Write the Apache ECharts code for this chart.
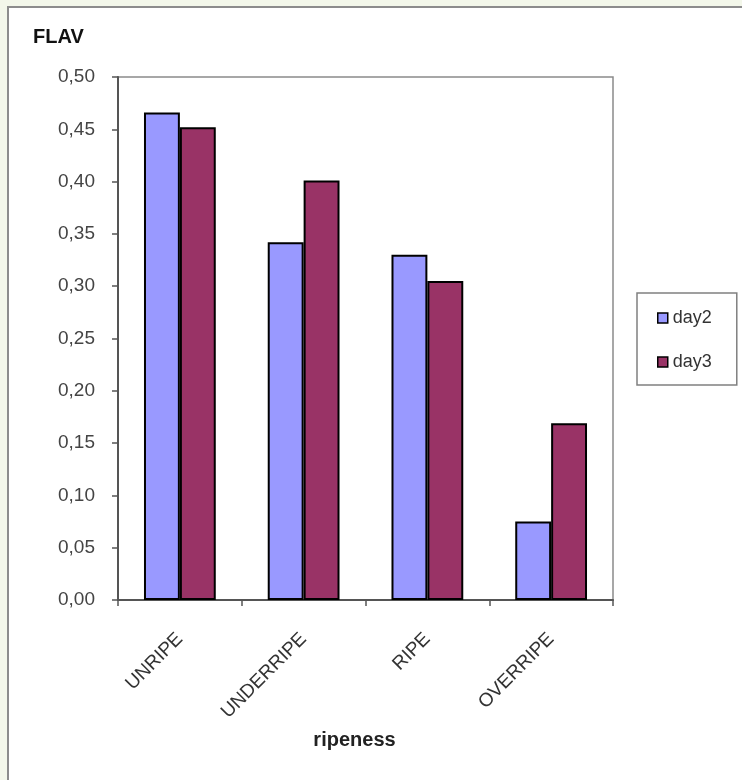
<!DOCTYPE html>
<html>
<head>
<meta charset="utf-8">
<script src="https://cdn.jsdelivr.net/npm/echarts@6/dist/echarts.min.js"></script>
<style>
  html, body { margin: 0; padding: 0; background: #f3f7ea; }
  #chart { width: 742px; height: 780px; }
</style>
</head>
<body>
<div id="chart"></div>
<script>
// Flavour score by fruit ripeness, two sampling days
const categories = ['UNRIPE', 'UNDERRIPE', 'RIPE', 'OVERRIPE'];
const day2 = [0.466, 0.342, 0.330, 0.075];
const day3 = [0.452, 0.401, 0.305, 0.169];
const seriesNames = ['day2', 'day3'];
const yTicks = { min: 0, max: 0.5, step: 0.05 };

const chart = echarts.init(document.getElementById('chart'), null, { renderer: 'canvas' });

const labelFont = 'Liberation Sans, Arial, sans-serif';

chart.setOption({
  animation: false,
  backgroundColor: '#f3f7ea',
  graphic: [{
    type: 'rect',
    z: -10,
    shape: { x: 8, y: 7, width: 760, height: 800 },
    style: { fill: '#ffffff', stroke: '#8c8c8c', lineWidth: 2 }
  }],
  title: {
    text: 'FLAV',
    left: 28,
    top: 22,
    textStyle: { fontFamily: labelFont, fontSize: 20, fontWeight: 'bold', color: '#111' }
  },
  legend: {
    orient: 'vertical',
    left: 637,
    top: 293,
    padding: [16, 25, 14, 20],
    itemGap: 26,
    itemWidth: 10,
    itemHeight: 10,
    icon: 'rect',
    borderColor: '#808080',
    borderWidth: 1.5,
    backgroundColor: '#ffffff',
    textStyle: { fontFamily: labelFont, fontSize: 18, lineHeight: 18, color: '#333' },
    itemStyle: { borderColor: '#000', borderWidth: 1.5 },
    data: seriesNames
  },
  grid: {
    left: 118,
    right: 129,
    top: 77,
    bottom: 180,
    show: true,
    borderColor: '#8a8a8a',
    borderWidth: 1.5,
    backgroundColor: '#ffffff'
  },
  xAxis: {
    type: 'category',
    data: categories,
    name: 'ripeness',
    nameLocation: 'middle',
    nameGap: 130,
    nameTextStyle: {
      fontFamily: labelFont, fontSize: 20, fontWeight: 'bold', color: '#222',
      padding: [0, 22, 0, 0]
    },
    axisLine: { lineStyle: { color: '#555', width: 2 } },
    axisTick: { show: true, length: 6, lineStyle: { color: '#555', width: 1.5 } },
    axisLabel: {
      interval: 0,
      rotate: 45,
      margin: 36,
      fontFamily: labelFont,
      fontSize: 19,
      color: '#333'
    }
  },
  yAxis: {
    type: 'value',
    min: yTicks.min,
    max: yTicks.max,
    interval: yTicks.step,
    axisLine: { show: true, lineStyle: { color: '#555', width: 2 } },
    axisTick: { show: true, length: 6, lineStyle: { color: '#555', width: 1.5 } },
    splitLine: { show: false },
    axisLabel: {
      margin: 23,
      fontFamily: labelFont,
      fontSize: 19,
      color: '#444',
      formatter: v => v.toFixed(2).replace('.', ',')
    }
  },
  series: [
    {
      name: seriesNames[0],
      type: 'bar',
      data: day2,
      barGap: '0%',
      barCategoryGap: '42%',
      itemStyle: { color: '#9999ff', borderColor: '#000', borderWidth: 2 }
    },
    {
      name: seriesNames[1],
      type: 'bar',
      data: day3,
      barGap: '0%',
      barCategoryGap: '42%',
      itemStyle: { color: '#993366', borderColor: '#000', borderWidth: 2 }
    }
  ]
});
</script>
</body>
</html>
